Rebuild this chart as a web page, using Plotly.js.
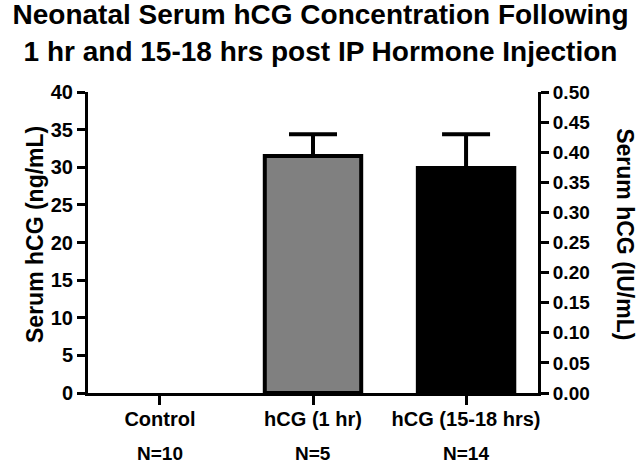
<!DOCTYPE html>
<html>
<head>
<meta charset="utf-8">
<script src="https://cdn.plot.ly/plotly-3.0.1.min.js"></script>
<style>
  html, body { margin: 0; padding: 0; background: #fff; }
  #chart { width: 641px; height: 466px; }
</style>
</head>
<body>
<div id="chart"></div>
<script>
// ---- data ----
const categories = ["Control", "hCG (1 hr)", "hCG (15-18 hrs)"];
const meanNgPerMl = [0, 31.5, 29.9];
const semNgPerMl = [0, 2.9, 4.5];
const groupN = ["N=10", "N=5", "N=14"];
const barColors = ["#ffffff", "#808080", "#000000"];
const leftTickVals = [0, 5, 10, 15, 20, 25, 30, 35, 40];
const rightTickVals = [0, 0.05, 0.10, 0.15, 0.20, 0.25, 0.30, 0.35, 0.40, 0.45, 0.50];

const FONT = "'Liberation Sans', Arial, sans-serif";

// Groups with a measurable mean get an outlined bar and an upper SEM bar;
// the control (no detectable hCG) is drawn without either.
const hasValue = meanNgPerMl.map(v => v > 0);
const pick = (arr, keep) => arr.filter((_, i) => hasValue[i] === keep);

const traces = [
  {
    type: "bar",
    x: pick(categories, false),
    y: pick(meanNgPerMl, false),
    marker: { color: pick(barColors, false), line: { width: 0 } },
    hoverinfo: "skip",
    showlegend: false
  },
  {
    type: "bar",
    x: pick(categories, true),
    y: pick(meanNgPerMl, true),
    marker: {
      color: pick(barColors, true),
      line: { color: "#000", width: 4 }
    },
    error_y: {
      type: "data",
      symmetric: false,
      array: pick(semNgPerMl, true),
      arrayminus: pick(semNgPerMl, true).map(() => 0),
      color: "#000",
      thickness: 4,
      width: 24
    },
    hoverinfo: "skip",
    showlegend: false
  },
  {
    type: "scatter",
    x: [],
    y: [],
    yaxis: "y2",
    showlegend: false,
    hoverinfo: "skip"
  }
];

const annotations = categories.map((c, i) => ({
  x: c, xref: "x", y: 0, yref: "paper",
  yshift: -60, yanchor: "middle", xanchor: "center",
  text: groupN[i], showarrow: false,
  font: { family: FONT, size: 19, color: "#000", weight: "bold" }
}));

annotations.push({
  x: -0.118, xref: "paper", y: 0.528, yref: "paper",
  xanchor: "center", yanchor: "middle",
  text: "Serum hCG (ng/mL)", textangle: -90, showarrow: false,
  font: { family: FONT, size: 23, color: "#000", weight: "bold" }
});
annotations.push({
  x: 1.193, xref: "paper", y: 0.528, yref: "paper",
  xanchor: "center", yanchor: "middle",
  text: "Serum hCG (IU/mL)", textangle: 90, showarrow: false,
  font: { family: FONT, size: 23, color: "#000", weight: "bold" }
});

const layout = {
  width: 641,
  height: 466,
  margin: { l: 88, r: 103, t: 92, b: 73, pad: 0 },
  paper_bgcolor: "#fff",
  plot_bgcolor: "#fff",
  font: { family: FONT, color: "#000" },
  title: {
    text: "Neonatal Serum hCG Concentration Following<br>1 hr and 15-18 hrs post IP Hormone Injection",
    font: { family: FONT, size: 28, color: "#000", weight: "bold" },
    x: 0.5, xref: "container", xanchor: "center",
    y: 0.948, yref: "container", yanchor: "middle"
  },
  barmode: "overlay",
  bargap: 0.37,
  xaxis: {
    type: "category",
    categoryorder: "array",
    categoryarray: categories,
    range: [-0.47, 2.47],
    showline: true, linecolor: "#000", linewidth: 3,
    ticks: "outside", ticklen: 9, tickwidth: 3, tickcolor: "#000",
    ticklabelstandoff: -3,
    showgrid: false, zeroline: false,
    tickfont: { family: FONT, size: 20, color: "#000", weight: "bold" },
    fixedrange: true
  },
  yaxis: {
    range: [0, 40],
    tickvals: leftTickVals,
    showline: true, linecolor: "#000", linewidth: 3,
    ticks: "outside", ticklen: 8, tickwidth: 3, tickcolor: "#000",
    showgrid: false, zeroline: false,
    tickfont: { family: FONT, size: 20, color: "#000", weight: "bold" },
    fixedrange: true
  },
  yaxis2: {
    range: [0, 0.5],
    tickvals: rightTickVals,
    tickformat: ".2f",
    overlaying: "y", side: "right", anchor: "x",
    showline: true, linecolor: "#000", linewidth: 3,
    ticks: "outside", ticklen: 8, tickwidth: 3, tickcolor: "#000",
    showgrid: false, zeroline: false,
    tickfont: { family: FONT, size: 19, color: "#000", weight: "bold" },
    fixedrange: true
  },
  annotations: annotations,
  showlegend: false
};

Plotly.newPlot("chart", traces, layout, { displayModeBar: false, staticPlot: true });
</script>
</body>
</html>
